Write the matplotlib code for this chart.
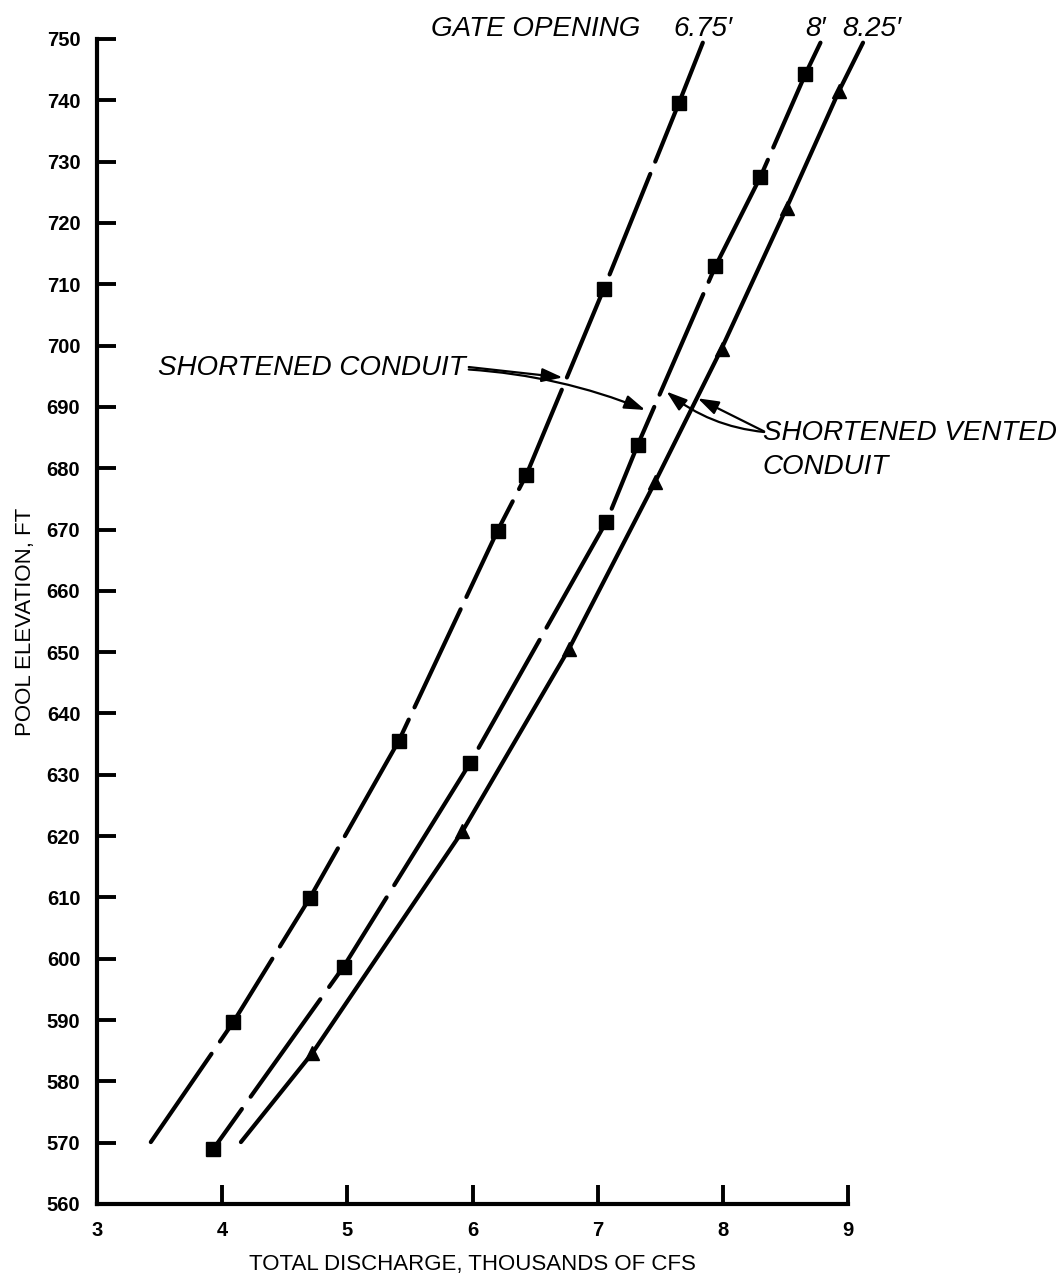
import numpy as np
import matplotlib
matplotlib.use("Agg")
import matplotlib.pyplot as plt
from matplotlib.patches import FancyArrowPatch

plt.rcParams['font.family'] = ['Liberation Sans', 'DejaVu Sans']

# ---------------- data ----------------
x_ticks = [3, 4, 5, 6, 7, 8, 9]
y_ticks = list(range(560, 751, 10))

# Gate opening 6.75' (squares)
g675_x = [4.09, 4.70, 5.41, 6.20, 6.43, 7.05, 7.65]
g675_y = [589.7, 609.9, 635.5, 669.8, 678.9, 709.3, 739.6]
g675_curve_x = [3.43, 4.09, 4.70, 5.41, 6.20, 6.43, 7.05, 7.65, 7.84]
g675_curve_y = [570.1, 589.7, 609.9, 635.5, 669.8, 678.9, 709.3, 739.6, 749.4]

# Gate opening 8' (squares)
g8_x = [3.93, 4.97, 5.98, 7.07, 7.32, 7.94, 8.30, 8.66]
g8_y = [569.0, 598.7, 631.9, 671.3, 683.8, 712.9, 727.5, 744.3]
g8_curve_x = [3.93, 4.97, 5.98, 7.07, 7.32, 7.94, 8.30, 8.66, 8.78]
g8_curve_y = [569.0, 598.7, 631.9, 671.3, 683.8, 712.9, 727.5, 744.3, 749.4]

# Gate opening 8.25' (triangles)
g825_x = [4.72, 5.92, 6.77, 7.46, 7.99, 8.51, 8.93]
g825_y = [584.6, 620.8, 650.5, 677.8, 699.5, 722.5, 741.6]
g825_curve_x = [4.15, 4.72, 5.92, 6.77, 7.46, 7.99, 8.51, 8.93, 9.12]
g825_curve_y = [570.1, 584.6, 620.8, 650.5, 677.8, 699.5, 722.5, 741.6, 749.4]

# elevations at which the broken curves have gaps (line style)
g675_gaps = [585.5, 601, 619, 640, 658, 675.6, 693.8, 710.6, 729]
g8_gaps = [576.5, 594.4, 611, 633.4, 653, 672.4, 691, 709.4, 731.3]

# ---------------- figure ----------------
W, H = 1059, 1279
fig = plt.figure(figsize=(W / 100, H / 100), dpi=100)
ax = fig.add_axes([97 / W, 1 - 1204 / H, (848 - 97) / W, (1204 - 39) / H])
ax.set_xlim(3, 9)
ax.set_ylim(560, 750)

LW = 3.0
col = 'black'


def broken_curve(cx, cy, gaps, half=1.0):
    cx = np.asarray(cx, float)
    cy = np.asarray(cy, float)
    bounds = [cy[0]]
    for g in gaps:
        bounds += [g - half, g + half]
    bounds.append(cy[-1])
    for lo, hi in zip(bounds[0::2], bounds[1::2]):
        inner = (cy > lo) & (cy < hi)
        ys = np.concatenate([[lo], cy[inner], [hi]])
        xs = np.interp(ys, cy, cx)
        ax.plot(xs, ys, color=col, lw=LW, solid_capstyle='round', clip_on=False)


broken_curve(g675_curve_x, g675_curve_y, g675_gaps)
broken_curve(g8_curve_x, g8_curve_y, g8_gaps)
ax.plot(g825_curve_x, g825_curve_y, color=col, lw=LW, solid_capstyle='round',
        clip_on=False)

ax.plot(g675_x, g675_y, ls='none', marker='s', ms=9.5, color=col, clip_on=False)
ax.plot(g8_x, g8_y, ls='none', marker='s', ms=9.5, color=col, clip_on=False)
ax.plot(g825_x, g825_y, ls='none', marker='^', ms=9.5, color=col, clip_on=False)

# ---------------- axes styling ----------------
for s in ['top', 'right']:
    ax.spines[s].set_visible(False)
for s in ['left', 'bottom']:
    ax.spines[s].set_linewidth(3)
ax.set_xticks(x_ticks)
ax.set_yticks(y_ticks)
ax.tick_params(direction='in', length=14, width=2.8, pad=12)
for lab in ax.get_xticklabels() + ax.get_yticklabels():
    lab.set_fontsize(14.5)
    lab.set_fontweight('bold')

ax.set_xlabel('TOTAL DISCHARGE, THOUSANDS OF CFS', fontsize=16, labelpad=10)
ax.set_ylabel('POOL ELEVATION, FT', fontsize=16, labelpad=8)

# ---------------- annotations ----------------
tkw = dict(fontsize=20, style='italic', color=col, clip_on=False)
ax.text(7.34, 751.6, 'GATE OPENING', ha='right', va='center', **tkw)
ax.text(7.84, 751.6, '6.75\u2032', ha='center', va='center', **tkw)
ax.text(8.74, 751.6, '8\u2032', ha='center', va='center', **tkw)
ax.text(9.19, 751.6, '8.25\u2032', ha='center', va='center', **tkw)

ax.text(5.95, 696.4, 'SHORTENED CONDUIT', ha='right', va='center', **tkw)
ax.text(8.32, 685.8, 'SHORTENED VENTED', ha='left', va='center', **tkw)
ax.text(8.32, 680.2, 'CONDUIT', ha='left', va='center', **tkw)

akw = dict(arrowstyle='-|>,head_length=0.9,head_width=0.3', color=col,
           lw=1.6, mutation_scale=14, shrinkA=0, shrinkB=0)
ax.add_patch(FancyArrowPatch((5.97, 696.5), (6.72, 694.8),
                             connectionstyle='arc3,rad=0', **akw))
ax.add_patch(FancyArrowPatch((5.97, 696.1), (7.38, 689.5),
                             connectionstyle='arc3,rad=-0.08', **akw))
ax.add_patch(FancyArrowPatch((8.33, 685.9), (7.55, 692.5),
                             connectionstyle='arc3,rad=-0.15', **akw))
ax.add_patch(FancyArrowPatch((8.33, 686.0), (7.80, 691.4),
                             connectionstyle='arc3,rad=0', **akw))

fig.savefig('out.png', dpi=100)
